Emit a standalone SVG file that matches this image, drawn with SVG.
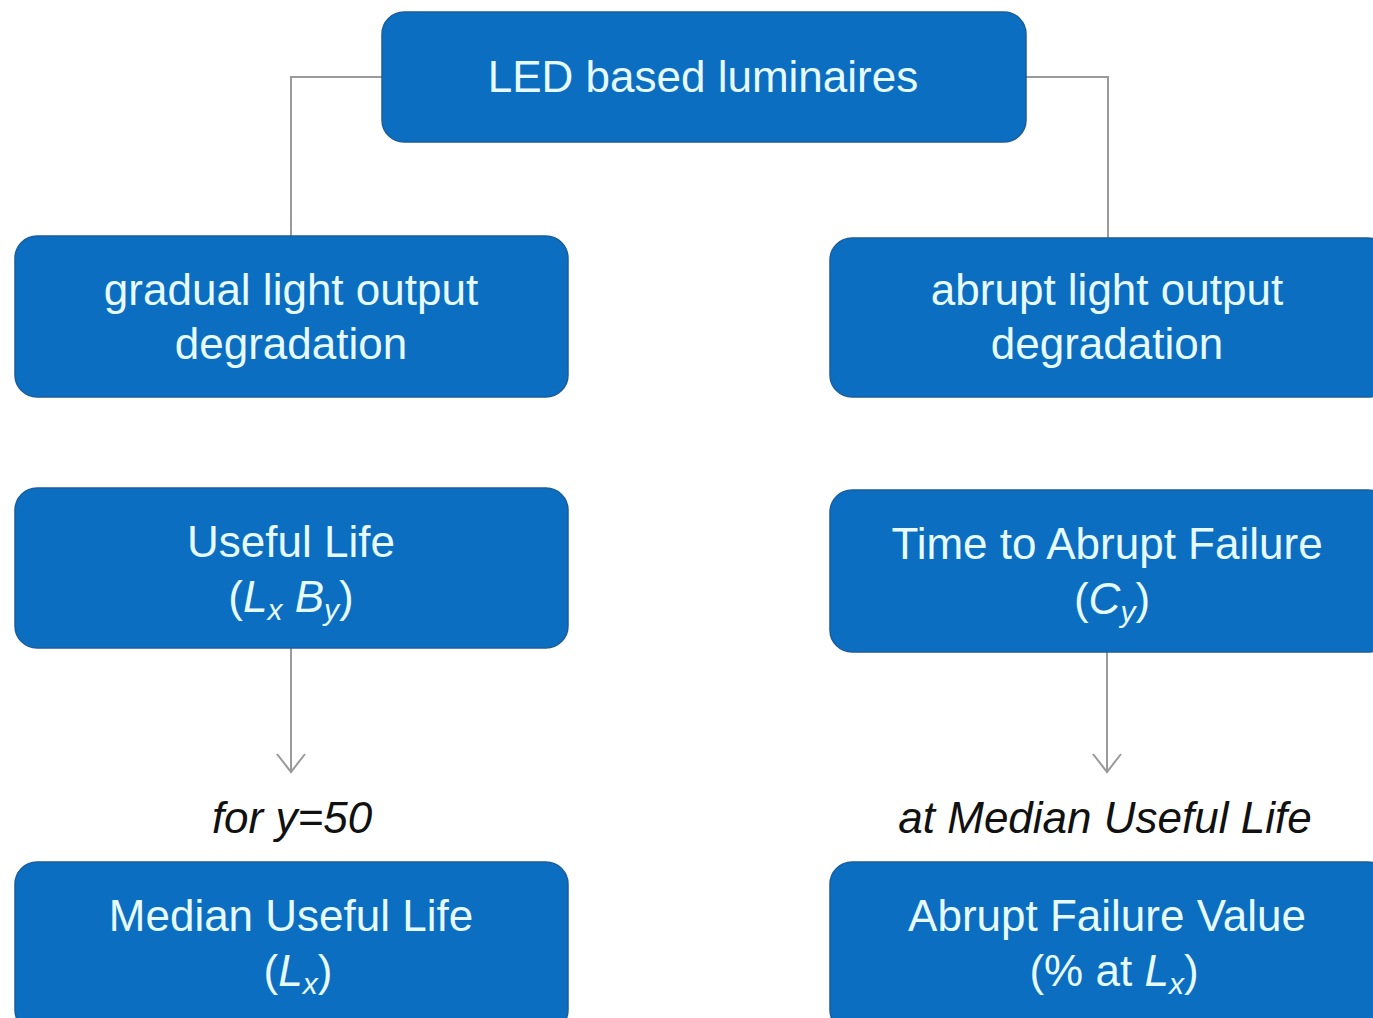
<svg xmlns="http://www.w3.org/2000/svg" width="1373" height="1018" viewBox="0 0 1373 1018">
<defs>
<style>
.box{fill:#0b6ec1;stroke:#1b5e9c;stroke-width:1.5}
.t{font-family:"Liberation Sans",Arial,sans-serif;font-size:44px;fill:#e6fbff;text-anchor:middle}
.lbl{font-family:"Liberation Sans",Arial,sans-serif;font-size:44px;font-style:italic;fill:#111;text-anchor:middle}
.i{font-style:italic}
.sub{font-size:30px;font-style:italic}
.con{fill:none;stroke:#9a9a9a;stroke-width:2}
</style>
<marker id="arr" viewBox="0 0 20 20" refX="10" refY="18" markerWidth="20" markerHeight="20" markerUnits="userSpaceOnUse" orient="auto-start-reverse">
<path d="M0,0 L10,18 L20,0" transform="rotate(-90 10 10)" fill="none" stroke="#9a9a9a" stroke-width="2"/>
</marker>
<marker id="chev" viewBox="-16 -20 32 22" refX="0" refY="0" markerWidth="32" markerHeight="22" markerUnits="userSpaceOnUse" orient="0">
<path d="M-14,-18 L0,0 L14,-18" fill="none" stroke="#9a9a9a" stroke-width="2"/>
</marker>
</defs>
<rect width="1373" height="1018" fill="#ffffff"/>
<g id="connectors">
<path class="con" d="M382,77 H291 V236"/>
<path class="con" d="M1026,77 H1108 V238"/>
<path class="con" d="M291,648 V772" marker-end="url(#chev)"/>
<path class="con" d="M1107,652 V772" marker-end="url(#chev)"/>
</g>
<g id="n-led">
<rect class="box" x="382" y="12" width="644" height="130" rx="22"/>
<text class="t" x="703" y="92">LED based luminaires</text>
</g>
<g id="n-gradual">
<rect class="box" x="15" y="236" width="553" height="161" rx="22"/>
<text class="t" x="291" y="305">gradual light output</text>
<text class="t" x="291" y="359">degradation</text>
</g>
<g id="n-abrupt">
<rect class="box" x="830" y="238" width="560" height="159" rx="22"/>
<text class="t" x="1107" y="305">abrupt light output</text>
<text class="t" x="1107" y="359">degradation</text>
</g>
<g id="n-useful">
<rect class="box" x="15" y="488" width="553" height="160" rx="22"/>
<text class="t" x="291" y="557">Useful Life</text>
<text class="t" x="291" y="612">(<tspan class="i">L</tspan><tspan class="sub" dy="8">x</tspan><tspan class="i" dy="-8"> B</tspan><tspan class="sub" dy="8">y</tspan><tspan dy="-8">)</tspan></text>
</g>
<g id="n-time">
<rect class="box" x="830" y="490" width="560" height="162" rx="22"/>
<text class="t" x="1107" y="559">Time to Abrupt Failure</text>
<text class="t" x="1112" y="614">(<tspan class="i">C</tspan><tspan class="sub" dy="8">y</tspan><tspan dy="-8">)</tspan></text>
</g>
<g id="lbl-left">
<text class="lbl" x="292" y="833">for y=50</text>
</g>
<g id="lbl-right">
<text class="lbl" x="1105" y="833">at Median Useful Life</text>
</g>
<g id="n-median">
<rect class="box" x="15" y="862" width="553" height="170" rx="22"/>
<text class="t" x="291" y="931">Median Useful Life</text>
<text class="t" x="298" y="986">(<tspan class="i">L</tspan><tspan class="sub" dy="8">x</tspan><tspan dy="-8">)</tspan></text>
</g>
<g id="n-value">
<rect class="box" x="830" y="862" width="560" height="170" rx="22"/>
<text class="t" x="1107" y="931">Abrupt Failure Value</text>
<text class="t" x="1114" y="986">(% at <tspan class="i">L</tspan><tspan class="sub" dy="8">x</tspan><tspan dy="-8">)</tspan></text>
</g>
</svg>
